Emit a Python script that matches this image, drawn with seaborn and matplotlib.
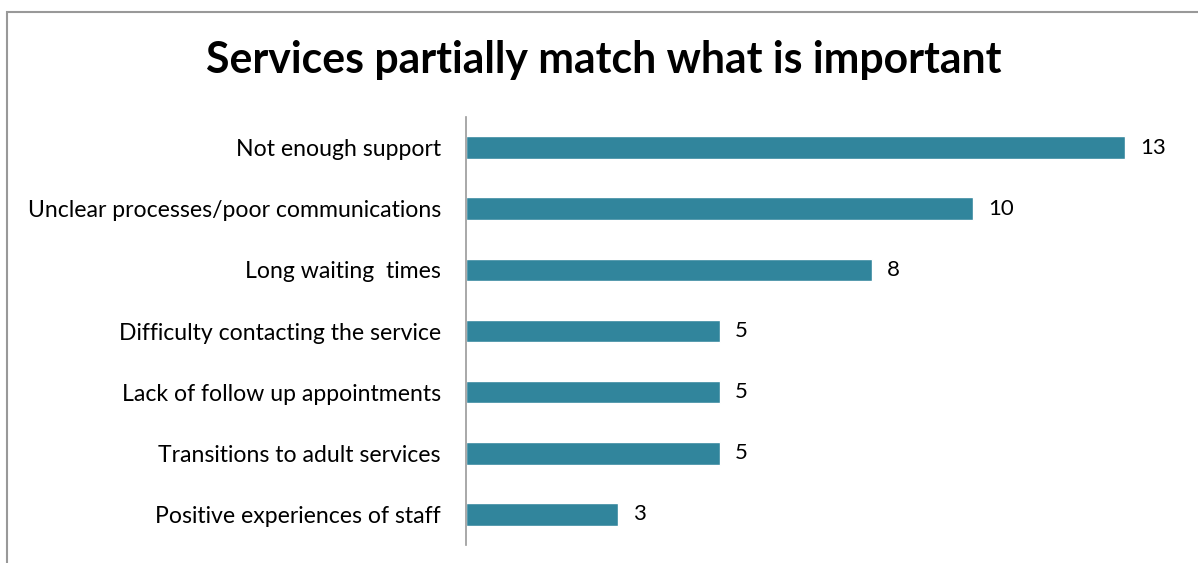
import matplotlib
matplotlib.use("Agg")
import matplotlib.pyplot as plt
import seaborn as sns
import pandas as pd
from matplotlib.patches import Rectangle

categories = [
    "Not enough support",
    "Unclear processes/poor communications",
    "Long waiting  times",
    "Difficulty contacting the service",
    "Lack of follow up appointments",
    "Transitions to adult services",
    "Positive experiences of staff",
]
counts = [13, 10, 8, 5, 5, 5, 3]
title = "Services partially match what is important"

df = pd.DataFrame({"category": categories, "count": counts})

sns.set_theme(style="white")
plt.rcParams["font.family"] = ["Lato", "DejaVu Sans"]

fig = plt.figure(figsize=(11.98, 5.63), dpi=100)
ax = fig.add_axes([466 / 1198, 1 - 545 / 563, (1176 - 466) / 1198, (545 - 117) / 563])

sns.barplot(data=df, x="count", y="category", color="#31859C", width=0.37,
            saturation=1, ax=ax, orient="h")

ax.set_xlim(0, 14)
ax.set_ylim(6.5, -0.5)
ax.set_xlabel("")
ax.set_ylabel("")
ax.set_xticks([])
ax.tick_params(axis="y", length=0, pad=18, labelsize=16.6, labelcolor="black")
for s in ["top", "right", "bottom"]:
    ax.spines[s].set_visible(False)
ax.spines["left"].set_color("#999999")
ax.spines["left"].set_linewidth(1.2)

for container in ax.containers:
    ax.bar_label(container, labels=[str(v) for v in counts], padding=11,
                 fontsize=16, color="black")

fig.text(604 / 1198, 1 - 60 / 563, title, ha="center", va="center",
         fontsize=30.8, fontweight="bold", color="black")

# chart frame
fig.patches.append(Rectangle((7 / 1198, -0.05), 1.1, 1 - 12 / 563 + 0.05,
                             transform=fig.transFigure, fill=False,
                             edgecolor="#999999", linewidth=1.5))

fig.savefig("out.png", dpi=100)
